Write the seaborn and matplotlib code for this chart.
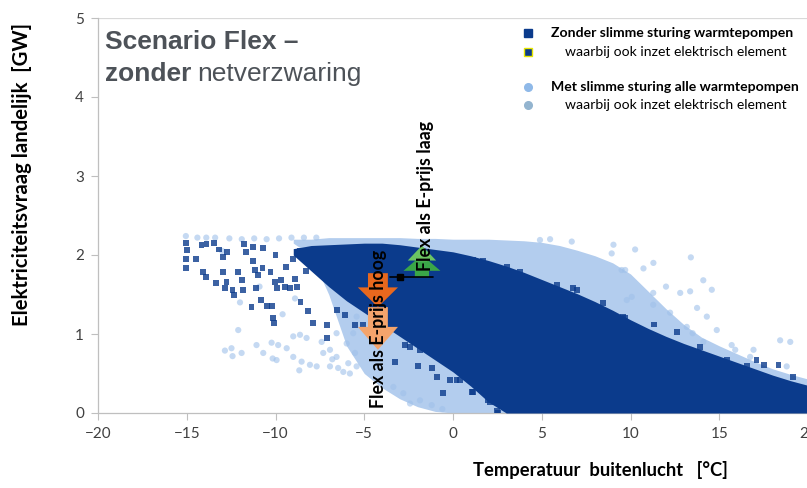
import numpy as np
import pandas as pd
import matplotlib
matplotlib.use("Agg")
import matplotlib.pyplot as plt
import seaborn as sns

# --- data ----------------------------------------------------------------
# dense part of the clouds: envelope per temperature (degC) in GW
cloud_temp = [-9, -8, -7, -6, -5, -4, -3, -2, -1, 0, 1, 2, 3, 4, 5, 6, 7,
              8, 9, 10, 11, 12, 13, 14, 15, 16, 17, 18, 19, 20]
light_top = [2.2, 2.2, 2.22, 2.22, 2.22, 2.22, 2.22, 2.21, 2.21, 2.2, 2.2, 2.2,
             2.19, 2.18, 2.16, 2.12, 2.06, 1.99, 1.9, 1.76, 1.54, 1.32, 1.12,
             0.96, 0.85, 0.75, 0.65, 0.56, 0.49, 0.43]
light_bottom = [2.15, 2.0, 1.5, 0.85, 0.5, 0.32, 0.18, 0.08, 0.02, 0, 0, 0, 0,
                0, 0, 0, 0, 0, 0, 0, 0, 0, 0, 0, 0, 0, 0, 0, 0, 0]
dark_top = [2.08, 2.12, 2.13, 2.14, 2.15, 2.15, 2.13, 2.1, 2.07, 2.04, 1.99,
            1.93, 1.86, 1.78, 1.69, 1.6, 1.51, 1.41, 1.3, 1.18, 1.07, 0.97,
            0.88, 0.8, 0.72, 0.64, 0.56, 0.48, 0.41, 0.35]
dark_bottom = [2.0, 1.8, 1.6, 1.42, 1.27, 1.12, 0.97, 0.82, 0.67, 0.52, 0.34,
               0.14, 0.0, 0, 0, 0, 0, 0, 0, 0, 0, 0, 0, 0, 0, 0, 0, 0, 0, 0]

# scattered squares: zonder slimme sturing
dark_x = [-15.05, -15.01, -15.05, -15.05, -14.49, -14.17, -13.89, -13.47, -13.17,
          -12.98, -12.72, -14.07, -13.92, -13.36, -12.98, -12.85, -12.76, -12.42,
          -12.35, -12.10, -11.91, -11.85, -11.78, -11.67, -11.29, -11.26, -11.16,
          -10.97, -10.73, -10.69, -11.10, -10.84, -11.35, -10.50, -10.22, -10.16,
          -10.09, -10.28, -10.03, -9.94, -9.71, -9.47, -9.19, -8.81, -8.59, -8.16,
          -7.87, -7.09, -7.09, -6.56, -6.09, -5.52, -5.06, -9.0, -8.6, -8.3, -8.9,
          -9.4, -10.0, -7.6, -7.3,
          1.7, 3.03, 3.78, 5.85, 6.78, 6.97, 8.47, 9.6, 1.15, 0.39, 9.7,
          1.15, 2.09, 2.46, -0.17, 0.39, 1.52, 1.05, 0.2, 1.71, 2.56, 1.99, 3.12,
          -2.7, -3.27, -1.18, -1.86, -2.42, -1.96, -0.92, 0.39, -0.56, -2.61, -2.89,
          15.43, 16.56, 17.1, 17.5, 18.34, 19.18, 12.6, 13.9, 11.3]
dark_y = [2.15, 2.06, 1.95, 1.83, 1.95, 2.13, 2.14, 2.15, 2.07,
          1.97, 2.04, 1.79, 1.72, 1.65, 1.79, 1.58, 1.66, 1.56,
          1.49, 1.79, 1.68, 1.56, 2.14, 2.04, 2.10, 1.92, 1.81,
          1.75, 1.83, 2.09, 1.58, 1.43, 1.34, 1.35, 1.35, 1.20,
          1.14, 1.78, 1.66, 1.58, 1.68, 1.60, 1.58, 1.60, 1.41, 1.29,
          1.14, 1.11, 0.95, 1.30, 1.24, 1.11, 1.11, 1.95, 2.05, 1.8, 1.7,
          1.85, 2.0, 1.9, 1.75,
          1.92, 1.85, 1.79, 1.62, 1.58, 1.56, 1.39, 1.22, 1.94, 1.89, 1.2,
          0.27, 0.14, 0.02, 0.42, 0.67, 0.5, 0.27, 0.42, 0.46, 0.0, 0.16, 0.1,
          0.86, 0.65, 0.57, 0.8, 0.84, 0.59, 0.46, 0.42, 0.25, 1.18, 1.05,
          0.67, 0.59, 0.67, 0.61, 0.61, 0.46, 1.02, 0.84, 1.12]

# scattered circles: met slimme sturing
light_x = [-15.05, -14.4, -13.9, -13.4, -12.6, -11.9, -11.2, -10.5, -9.8, -9.1,
           -8.4, -7.7, -12.10, -12.85, -12.48, -12.42, -11.91, -11.07, -10.69,
           -10.16, -9.94, -10.22, -9.85, -9.37, -9.00, -8.62, -9.00, -8.53, -8.66,
           -8.25, -8.06, -7.68, -7.31, -6.93, -6.56, -6.93, -6.47, -6.18, -5.81,
           -5.90, -5.43, -5.52, -5.99, -6.56, -5.43, -5.62, -7.4, -6.8, -8.9,
           -10.9, -12.0, -13.0, -9.6,
           -2.8, -2.42, -1.86, -3.36, -1.2, -0.6,
           4.9, 5.47, 6.69, 9.04, 10.26, 8.94, 9.5, 9.79, 10.07, 9.7, 10.73, 11.29,
           11.28, 11.28, 12.23, 13.17, 13.5, 14.1, 13.4, 14.1, 14.58, 12.8, 13.36,
           13.75, 14.3, 14.86, 18.43, 19.0, 16.93, 16.74, 18.8, 15.7, 15.9, 12.0]
light_y = [2.24, 2.22, 2.22, 2.22, 2.21, 2.2, 2.21, 2.2, 2.21, 2.22,
           2.22, 2.22, 1.05, 0.79, 0.82, 0.72, 0.76, 0.86, 0.76,
           0.69, 0.67, 0.89, 0.86, 0.82, 0.97, 0.99, 0.71, 0.65, 0.54,
           0.95, 0.61, 0.59, 0.76, 0.80, 0.71, 0.59, 0.57, 0.52, 0.50,
           0.63, 0.59, 0.76, 0.88, 1.01, 1.22, 1.01, 0.9, 0.68, 1.45,
           1.6, 1.4, 2.05, 1.25,
           0.25, 0.12, 0.16, 0.33, 0.1, 0.05,
           2.19, 2.2, 2.17, 2.13, 2.07, 2.02, 1.81, 1.43, 1.47, 1.81, 1.83, 1.90,
           1.52, 1.37, 1.27, 1.09, 1.01, 0.90, 1.97, 1.68, 1.56, 1.52, 1.54,
           1.33, 1.22, 1.05, 0.92, 0.90, 0.80, 0.71, 0.59, 0.86, 0.80, 1.6]

x_ticks = [-20, -15, -10, -5, 0, 5, 10, 15, 20]
y_ticks = [0, 1, 2, 3, 4, 5]

legend_labels = ["Zonder slimme sturing warmtepompen",
                 "waarbij ook inzet elektrisch element",
                 "Met slimme sturing alle warmtepompen",
                 "waarbij ook inzet elektrisch element"]

DARK = "#0b3b8c"
LIGHT = "#9fc1ea"
LIGHT_FILL = "#b3cdee"
TXT = "#4d5258"

sns.set_style("white")
plt.rcParams["font.family"] = ["Lato", "DejaVu Sans"]

fig = plt.figure(figsize=(8.07, 4.88), dpi=100)
ax = fig.add_axes([98 / 807, 75 / 488, 710 / 807, 395 / 488])

cloud = pd.DataFrame({"temp": cloud_temp, "light_top": light_top,
                      "light_bottom": light_bottom, "dark_top": dark_top,
                      "dark_bottom": dark_bottom})
light_pts = pd.DataFrame({"temp": light_x, "gw": light_y})
dark_pts = pd.DataFrame({"temp": dark_x, "gw": dark_y})

# light cloud (circles)
ax.fill_between(cloud["temp"], cloud["light_bottom"], cloud["light_top"],
                color=LIGHT_FILL, lw=0, zorder=1)
sns.scatterplot(data=light_pts, x="temp", y="gw", ax=ax, color=LIGHT, alpha=0.6,
                s=20, marker="o", edgecolor="none", zorder=2)

# dark cloud (squares)
ax.fill_between(cloud["temp"], cloud["dark_bottom"], cloud["dark_top"],
                color=DARK, lw=0, zorder=3)
sns.scatterplot(data=dark_pts, x="temp", y="gw", ax=ax, color=DARK, alpha=0.8,
                s=18, marker="s", edgecolor="none", zorder=4)


def arrow(xc, y_base, y_head, y_tip, shaft_hw, head_hw, color, z):
    xs = [xc - shaft_hw, xc + shaft_hw, xc + shaft_hw, xc + head_hw, xc,
          xc - head_hw, xc - shaft_hw]
    ys = [y_base, y_base, y_head, y_head, y_tip, y_head, y_head]
    ax.fill(xs, ys, color=color, lw=0, zorder=z)


# Flex annotations
arrow(-4.23, 1.77, 1.59, 1.34, 0.56, 1.13, "#e8681e", 6)
arrow(-4.23, 1.34, 1.09, 0.80, 0.56, 1.13, "#f4a46c", 6)
arrow(-1.75, 1.72, 1.80, 2.0, 0.4, 1.04, "#3aa648", 6)
arrow(-1.75, 1.92, 1.93, 2.12, 0.3, 0.8, "#6cc462", 6)
ax.plot([-3.55, -1.13], [1.72, 1.72], color="black", lw=1.2, zorder=7)
ax.plot([-2.99], [1.72], marker="s", color="black", ms=5, zorder=8)
ax.text(-1.55, 1.8, "Flex als E-prijs laag", rotation=90, ha="center",
        va="bottom", fontsize=12.8, fontweight="bold", color="black", zorder=9)
ax.text(-4.2, 0.06, "Flex als E-prijs hoog", rotation=90, ha="center",
        va="bottom", fontsize=12.8, fontweight="bold", color="black", zorder=9)

ax.set_xlim(-20, 20)
ax.set_ylim(0, 5)
ax.set_xticks(x_ticks)
ax.set_yticks(y_ticks)
ax.set_xlabel("")
ax.set_ylabel("")
ax.tick_params(axis="both", which="both", direction="out", length=5, width=0.8,
               color="#bfbfbf", labelsize=11, labelcolor="#404040", pad=5,
               bottom=True, left=True)
for side in ["top", "right"]:
    ax.spines[side].set_visible(False)
for side in ["left", "bottom"]:
    ax.spines[side].set_color("#bfbfbf")
    ax.spines[side].set_linewidth(0.9)
ax.axhline(5, color="#d9d9d9", lw=0.9, zorder=0)

# titles
fig.text(105 / 807, 1 - 49 / 488, "Scenario Flex \u2013", fontsize=19,
         fontweight="bold", color=TXT, family="Liberation Sans", va="baseline")
fig.text(105 / 807, 1 - 81 / 488, "zonder", fontsize=19, fontweight="bold",
         color=TXT, family="Liberation Sans", va="baseline")
fig.text(197 / 807, 1 - 81 / 488, "netverzwaring", fontsize=19,
         color=TXT, family="Liberation Sans", va="baseline")

# legend
leg_y = [33, 52, 87, 105]
leg_x = [551, 565, 551, 565]
leg_weight = ["bold", "normal", "bold", "normal"]
leg_marker = [dict(marker="s", color=DARK, mec=DARK),
              dict(marker="s", color=DARK, mec="#e6e600", mew=1.0),
              dict(marker="o", color="#8fb9e8", mec="#8fb9e8"),
              dict(marker="o", color="#93b4cf", mec="#93b4cf")]
for lbl, py, px, w, mk in zip(legend_labels, leg_y, leg_x, leg_weight, leg_marker):
    fig.lines.append(plt.Line2D([528 / 807], [1 - py / 488], ms=5.5, ls="none",
                                transform=fig.transFigure, figure=fig, **mk))
    fig.text(px / 807, 1 - py / 488, lbl, fontsize=10.1, fontweight=w,
             color="black", va="center", ha="left")

fig.text(22 / 807, 1 - 174 / 488, "Elektriciteitsvraag landelijk  [GW]",
         rotation=90, ha="center", va="center", fontsize=14.6,
         fontweight="bold", color="black")
fig.text(600 / 807, 1 - 470 / 488, "Temperatuur  buitenlucht   [\u00b0C]",
         ha="center", va="center", fontsize=13.2, fontweight="bold",
         color="black")

fig.savefig("out.png", dpi=100)
